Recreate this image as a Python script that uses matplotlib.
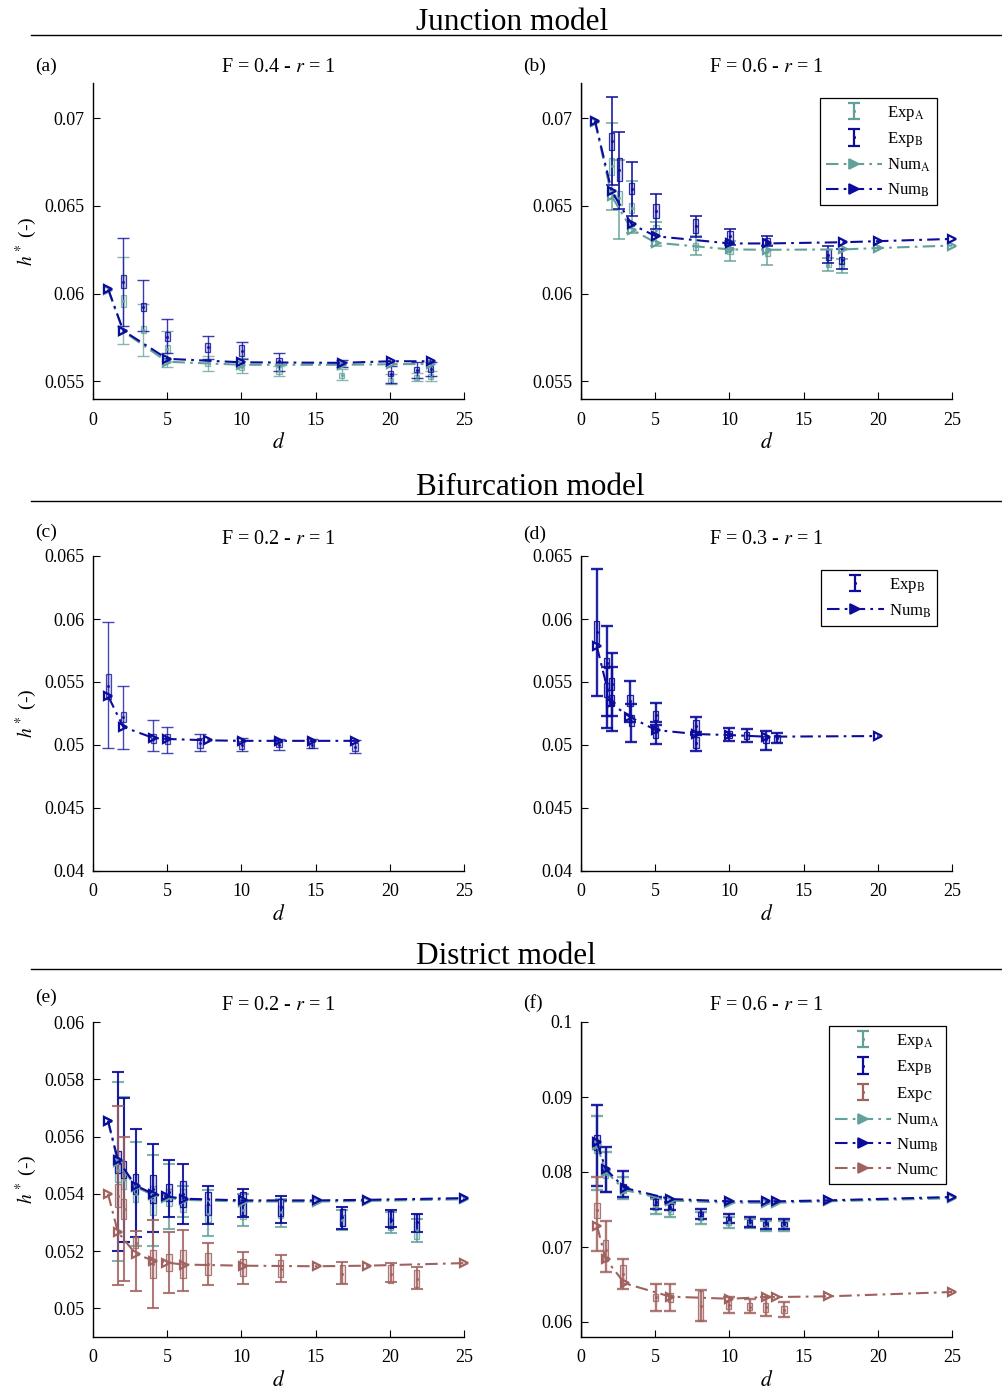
import numpy as np
import matplotlib
matplotlib.use("Agg")
import matplotlib.pyplot as plt
from matplotlib.colors import to_rgba
from matplotlib.lines import Line2D
from matplotlib.ticker import FixedLocator, FuncFormatter

plt.rcParams['font.family'] = ['Liberation Serif', 'DejaVu Serif']
plt.rcParams['mathtext.fontset'] = 'stix'

# ---------------- data ----------------
# Panel (a) Junction F=0.4
a_exp_d = [2.04, 3.39, 5.0, 7.73, 10.02, 12.53, 16.76, 20.06, 21.8, 22.75]
a_expA_h = [0.05959, 0.05794, 0.05685, 0.05609, 0.05585, 0.05562, 0.05534, 0.05506, 0.05524, 0.05528]
a_expA_hi = [0.0621, 0.0594, 0.05789, 0.05647, 0.05632, 0.0559, 0.0557, 0.05544, 0.0555, 0.0556]
a_expA_lo = [0.05713, 0.05647, 0.05585, 0.05557, 0.0555, 0.0553, 0.0551, 0.05483, 0.055, 0.055]
a_expA_box = [0.00034, 0.0002, 0.00023, 0.0002, 0.0002, 0.0002, 0.00015, 0.00015, 0.00015, 0.00015]
a_expB_h = [0.06068, 0.05926, 0.05755, 0.05694, 0.05676, 0.05615, 0.05606, 0.05544, 0.05568, 0.05572]
a_expB_hi = [0.06316, 0.06076, 0.05853, 0.05757, 0.05722, 0.05663, 0.05625, 0.0559, 0.0561, 0.0561]
a_expB_lo = [0.05817, 0.05785, 0.0566, 0.0563, 0.0563, 0.05562, 0.0558, 0.0549, 0.0552, 0.0553]
a_expB_box = [0.00037, 0.00022, 0.00027, 0.00025, 0.0003, 0.0002, 0.00012, 0.00015, 0.00015, 0.00018]
a_num_d = [1.03, 2.04, 5.0, 10.0, 16.76, 20.1, 22.8]
a_numA_h = [0.0602, 0.05785, 0.05612, 0.05595, 0.05595, 0.05598, 0.056]
a_numB_h = [0.06025, 0.05789, 0.05629, 0.05609, 0.05606, 0.05615, 0.05615]

# Panel (b) Junction F=0.6
b_exp_d = [2.07, 2.58, 3.42, 5.05, 7.73, 10.04, 12.55, 16.67, 17.57]
b_expA_h = [0.06725, 0.06545, 0.06489, 0.06365, 0.0627, 0.06245, 0.06235, 0.06166, 0.06157]
b_expA_hi = [0.06972, 0.06763, 0.0664, 0.06407, 0.06327, 0.06299, 0.0628, 0.06205, 0.06195]
b_expA_lo = [0.06475, 0.06309, 0.06347, 0.0627, 0.0622, 0.06185, 0.06163, 0.06128, 0.0612]
b_expA_box = [0.0005, 0.0004, 0.0003, 0.00025, 0.0002, 0.0002, 0.0002, 0.00015, 0.00015]
b_expB_h = [0.06867, 0.06706, 0.06598, 0.0647, 0.06384, 0.06327, 0.063, 0.06223, 0.0619]
b_expB_hi = [0.07119, 0.0692, 0.06748, 0.0657, 0.06445, 0.06371, 0.06327, 0.0627, 0.06252]
b_expB_lo = [0.06621, 0.0648, 0.06445, 0.0637, 0.0632, 0.0628, 0.0627, 0.06175, 0.06138]
b_expB_box = [0.0005, 0.00065, 0.0003, 0.0004, 0.0004, 0.0003, 0.00015, 0.0003, 0.0002]
b_num_d = [0.94, 2.07, 3.42, 5.05, 10.04, 12.55, 17.67, 20.03, 25.0]
b_numA_h = [0.0698, 0.06555, 0.06365, 0.0629, 0.06252, 0.0625, 0.06252, 0.0626, 0.06274]
b_numB_h = [0.06986, 0.06583, 0.06394, 0.06327, 0.06286, 0.06286, 0.06293, 0.06299, 0.06312]

# Panel (c) Bifurcation F=0.2
c_exp_d = [1.03, 2.04, 4.06, 5.0, 7.21, 10.02, 12.53, 14.74, 17.65]
c_expB_h = [0.05465, 0.05219, 0.0505, 0.05048, 0.05016, 0.05, 0.05003, 0.05003, 0.04985]
c_expB_hi = [0.05979, 0.05471, 0.052, 0.05143, 0.0509, 0.05056, 0.0505, 0.05048, 0.05042]
c_expB_lo = [0.04976, 0.04968, 0.04955, 0.0494, 0.04955, 0.04949, 0.04963, 0.04974, 0.04937]
c_expB_box = [0.001, 0.0004, 0.00035, 0.0004, 0.0004, 0.0003, 0.0002, 0.00025, 0.0003]
c_num_d = [1.03, 2.04, 4.06, 5.0, 7.77, 10.02, 12.53, 14.74, 17.65]
c_numB_h = [0.05386, 0.05143, 0.05056, 0.05048, 0.05037, 0.05033, 0.05033, 0.05033, 0.05033]

# Panel (d) Bifurcation F=0.3
d_exp_d = [1.06, 1.73, 1.73, 2.07, 2.07, 3.3, 3.4, 5.03, 5.03, 7.75, 7.75, 10.0, 11.16, 12.47, 13.2]
d_expB_h = [0.05897, 0.05648, 0.05437, 0.05484, 0.05352, 0.05352, 0.05193, 0.05235, 0.05101,
            0.05151, 0.05019, 0.05085, 0.05077, 0.05045, 0.05053]
d_expB_hi = [0.06394, 0.05947, 0.05616, 0.05733, 0.05616, 0.05511, 0.05325, 0.05336, 0.0518,
             0.0522, 0.051, 0.05132, 0.05127, 0.05114, 0.05098]
d_expB_lo = [0.05392, 0.05233, 0.05138, 0.05114, 0.05233, 0.0518, 0.05026, 0.0516, 0.05005,
             0.0508, 0.04952, 0.05034, 0.05026, 0.0496, 0.05013]
d_expB_box = [0.00089, 0.0004, 0.00053, 0.00046, 0.00046, 0.00046, 0.00046, 0.00037, 0.00046,
              0.00046, 0.00046, 0.0003, 0.0003, 0.0003, 0.0003]
d_num_d = [1.06, 2.02, 3.26, 5.03, 7.75, 10.0, 12.47, 20.04]
d_numB_h = [0.05786, 0.05331, 0.05225, 0.05119, 0.05087, 0.05079, 0.05066, 0.05071]

# Panel (e) District F=0.2
e_exp_d = [1.68, 2.07, 2.88, 4.04, 5.12, 6.06, 7.75, 10.1, 12.65, 16.8, 20.06, 21.8]
e_expA_h = [0.05482, 0.05447, 0.054, 0.05377, 0.05388, 0.05377, 0.0533, 0.05342, 0.05336, 0.05307, 0.05295, 0.05272]
e_expA_hi = [0.0579, 0.05738, 0.05581, 0.05534, 0.05505, 0.05429, 0.05412, 0.054, 0.05383, 0.05342, 0.05336, 0.05313]
e_expA_lo = [0.05165, 0.05231, 0.05219, 0.05219, 0.05278, 0.05318, 0.05254, 0.05289, 0.05283, 0.05272, 0.05262, 0.05231]
e_expA_box = [0.0004, 0.0003, 0.0003, 0.0005, 0.0003, 0.0004, 0.0003, 0.0003, 0.0002, 0.0002, 0.0002, 0.0003]
e_expB_h = [0.05511, 0.05484, 0.05435, 0.05417, 0.05406, 0.054, 0.05365, 0.05365, 0.05353, 0.05318, 0.05309, 0.05301]
e_expB_hi = [0.05825, 0.05734, 0.05627, 0.05575, 0.05517, 0.05503, 0.05426, 0.05417, 0.05394, 0.05353, 0.05342, 0.0533]
e_expB_lo = [0.052, 0.05231, 0.05248, 0.05266, 0.05318, 0.05295, 0.05293, 0.05318, 0.05299, 0.05278, 0.05283, 0.05266]
e_expB_box = [0.0004, 0.0003, 0.00035, 0.0005, 0.0003, 0.00045, 0.0004, 0.0004, 0.0003, 0.0003, 0.0003, 0.0003]
e_expC_h = [0.05394, 0.05348, 0.0523, 0.05155, 0.05161, 0.05155, 0.05155, 0.05144, 0.05138, 0.0512, 0.0512, 0.05103]
e_expC_hi = [0.05707, 0.05598, 0.0527, 0.05309, 0.05266, 0.05274, 0.05228, 0.05196, 0.05187, 0.05161, 0.05158, 0.05144]
e_expC_lo = [0.0508, 0.05097, 0.05062, 0.05, 0.05053, 0.05062, 0.05083, 0.05085, 0.05091, 0.05085, 0.05091, 0.05068]
e_expC_box = [0.0004, 0.00035, 0.0002, 0.0005, 0.0003, 0.0005, 0.0004, 0.0003, 0.0003, 0.0003, 0.0003, 0.0003]
e_num_d = [1.01, 1.68, 2.88, 4.04, 4.94, 6.1, 10.1, 15.07, 18.44, 25.0]
e_numA_h = [0.05653, 0.05512, 0.05424, 0.05396, 0.05387, 0.05379, 0.05373, 0.05373, 0.05375, 0.05381]
e_numB_h = [0.05656, 0.05517, 0.05429, 0.054, 0.05391, 0.05383, 0.05377, 0.05377, 0.05379, 0.05385]
e_numC_h = [0.054, 0.05266, 0.0519, 0.05167, 0.0516, 0.05153, 0.05149, 0.05147, 0.05149, 0.05158]

# Panel (f) District F=0.6
f_exp_d = [1.08, 1.66, 2.83, 5.03, 6.02, 8.06, 9.95, 11.37, 12.44, 13.68]
f_expA_h = [0.08329, 0.07973, 0.07773, 0.07529, 0.07484, 0.07387, 0.07329, 0.07307, 0.07284, 0.07284]
f_expA_hi = [0.08751, 0.08262, 0.07938, 0.0764, 0.07573, 0.07462, 0.07396, 0.07373, 0.07342, 0.07351]
f_expA_lo = [0.0776, 0.07729, 0.0764, 0.0744, 0.07396, 0.07307, 0.07253, 0.07253, 0.07218, 0.07209]
f_expA_box = [0.0008, 0.0005, 0.0005, 0.0004, 0.0004, 0.0003, 0.0003, 0.0003, 0.0003, 0.0003]
f_expB_h = [0.08396, 0.08018, 0.07796, 0.07596, 0.07538, 0.0744, 0.07373, 0.07329, 0.07307, 0.07307]
f_expB_hi = [0.08898, 0.08329, 0.08009, 0.07662, 0.07596, 0.07507, 0.0744, 0.07396, 0.07373, 0.07373]
f_expB_lo = [0.07818, 0.07729, 0.07662, 0.07507, 0.07493, 0.07373, 0.07316, 0.07271, 0.0724, 0.0724]
f_expB_box = [0.001, 0.0005, 0.0005, 0.0004, 0.0004, 0.0003, 0.0003, 0.0003, 0.0003, 0.0003]
f_expC_h = [0.0749, 0.0696, 0.0664, 0.06329, 0.06329, 0.06218, 0.06231, 0.06204, 0.06196, 0.06164]
f_expC_hi = [0.07938, 0.07351, 0.0684, 0.06507, 0.06507, 0.06427, 0.06338, 0.06307, 0.06329, 0.06262]
f_expC_lo = [0.06951, 0.06662, 0.0644, 0.06142, 0.06151, 0.06018, 0.06116, 0.06116, 0.06084, 0.06071]
f_expC_box = [0.001, 0.0014, 0.0012, 0.0005, 0.0006, 0.002, 0.0006, 0.0005, 0.0006, 0.0005]
f_num_d = [1.08, 1.66, 2.94, 6.02, 10.0, 12.49, 13.16, 16.67, 25.0]
f_numA_h = [0.0836, 0.0801, 0.0776, 0.0762, 0.0759, 0.0759, 0.0759, 0.0761, 0.0765]
f_numB_h = [0.08396, 0.0804, 0.07787, 0.0764, 0.07609, 0.07609, 0.07609, 0.07622, 0.07667]
f_numC_h = [0.07284, 0.0684, 0.06516, 0.06338, 0.0631, 0.06333, 0.06333, 0.06342, 0.064]

x_ticks = [0, 5, 10, 15, 20, 25]
yt_junction = [0.055, 0.06, 0.065, 0.07]
yt_bif = [0.04, 0.045, 0.05, 0.055, 0.06, 0.065]
yt_e = [0.05, 0.052, 0.054, 0.056, 0.058, 0.06]
yt_f = [0.06, 0.07, 0.08, 0.09, 0.1]

COL_A = '#62a09a'
COL_B = '#0b0b9c'
COL_C = '#a0625f'

W, H = 1002, 1391
fig = plt.figure(figsize=(W / 100, H / 100), dpi=100)

DASH = (0, (6, 2.5, 1.3, 2.5))


def px_axes(l, t, r, b):
    return fig.add_axes([l / W, 1 - b / H, (r - l) / W, (b - t) / H])


def style(ax, yt, ylim):
    ax.set_xlim(0, 25)
    ax.set_ylim(*ylim)
    ax.xaxis.set_major_locator(FixedLocator(x_ticks))
    ax.yaxis.set_major_locator(FixedLocator(yt))
    ax.yaxis.set_major_formatter(FuncFormatter(lambda v, p: ('%g' % round(v, 4))))
    ax.xaxis.set_major_formatter(FuncFormatter(lambda v, p: '%d' % v))
    for s in ['top', 'right']:
        ax.spines[s].set_visible(False)
    for s in ['left', 'bottom']:
        ax.spines[s].set_linewidth(1.0)
    ax.tick_params(direction='in', length=5, width=0.8, labelsize=13)
    ax.tick_params(axis='x', pad=9)
    ax.tick_params(axis='y', pad=6)


def draw_exp(ax, d, h, lo, hi, box, color, elw, alpha):
    d = np.asarray(d); h = np.asarray(h); lo = np.asarray(lo); hi = np.asarray(hi); box = np.asarray(box)
    ax.bar(d, 2 * box, bottom=h - box, width=0.36, facecolor=to_rgba(color, 0.18),
           edgecolor=to_rgba(color, alpha), linewidth=0.9, zorder=3)
    ax.errorbar(d, h, yerr=[h - lo, hi - h], fmt='.', ms=2.5, color=color, ecolor=color,
                elinewidth=elw, capsize=4.5, capthick=elw, alpha=alpha, zorder=3)


def draw_num(ax, d, h, color, lw):
    ax.plot(d, h, linestyle=DASH, color=color, lw=lw, marker='>', ms=6, mfc='none',
            mew=1.6, zorder=4, clip_on=False)


def header(ax, label, title, l, t, r, b, label_dy):
    cx = (l + r) / 2
    fig.text((l - 58) / W, 1 - (t - label_dy) / H, label, ha='left', va='center', fontsize=14)
    fig.text(cx / W, 1 - (t - 16) / H, title, ha='center', va='center', fontsize=14.5)
    fig.text(cx / W, 1 - (b + 44) / H, '$d$', ha='center', va='center', fontsize=15.5)
    if l < 300:
        fig.text(26 / W, 1 - ((t + b) / 2) / H, '$h^*$ (-)', ha='center', va='center',
                 rotation=90, fontsize=14)


def section(text, y):
    fig.text(416 / W, 1 - (y - 13) / H, text, ha='left', va='center', fontsize=22.5)
    fig.add_artist(Line2D([31 / W, 1.0], [1 - y / H, 1 - y / H], transform=fig.transFigure,
                          color='k', lw=1.0))


def exp_handle(color):
    return plt.errorbar([0], [0], yerr=[[1], [1]], fmt='.', ms=2.5, color=color,
                        elinewidth=1.6, capsize=4.5, capthick=1.6)


def num_handle(color):
    return Line2D([0], [0], linestyle=DASH, color=color, lw=1.5, marker='>', ms=6.5,
                  mfc=color, mew=1.2)


def legend(ax, handles, labels, right, top):
    leg = ax.legend(handles, labels, loc='upper right',
                    bbox_to_anchor=(right / W, 1 - top / H), bbox_transform=fig.transFigure,
                    borderaxespad=0, fancybox=False, framealpha=1, edgecolor='k',
                    fontsize=12, handlelength=3.4, handletextpad=0.3,
                    labelspacing=0.45, borderpad=0.35)
    leg.get_frame().set_linewidth(0.9)


TITLE = 'F = {} - $r$ = 1'

# sections
section('Junction model', 35)
section('Bifurcation model', 501)
section('District model', 969)

# ----- (a)
L, T, R, B = 93, 83, 464, 399
ax = px_axes(L, T, R, B)
style(ax, yt_junction, (0.054, 0.072))
draw_exp(ax, a_exp_d, a_expA_h, a_expA_lo, a_expA_hi, a_expA_box, COL_A, 1.0, 0.75)
draw_exp(ax, a_exp_d, a_expB_h, a_expB_lo, a_expB_hi, a_expB_box, COL_B, 1.0, 0.8)
draw_num(ax, a_num_d, a_numA_h, COL_A, 1.5)
draw_num(ax, a_num_d, a_numB_h, COL_B, 1.5)
header(ax, '(a)', TITLE.format('0.4'), L, T, R, B, 17)

# ----- (b)
L, T, R, B = 581, 83, 952, 399
ax = px_axes(L, T, R, B)
style(ax, yt_junction, (0.054, 0.072))
draw_exp(ax, b_exp_d, b_expA_h, b_expA_lo, b_expA_hi, b_expA_box, COL_A, 1.3, 0.8)
draw_exp(ax, b_exp_d, b_expB_h, b_expB_lo, b_expB_hi, b_expB_box, COL_B, 1.3, 0.85)
draw_num(ax, b_num_d, b_numA_h, COL_A, 1.5)
draw_num(ax, b_num_d, b_numB_h, COL_B, 1.5)
header(ax, '(b)', TITLE.format('0.6'), L, T, R, B, 17)
legend(ax, [exp_handle(COL_A), exp_handle(COL_B), num_handle(COL_A), num_handle(COL_B)],
       ['Exp$_\\mathrm{A}$', 'Exp$_\\mathrm{B}$', 'Num$_\\mathrm{A}$', 'Num$_\\mathrm{B}$'], 937, 98)

# ----- (c)
L, T, R, B = 93, 556, 464, 871
ax = px_axes(L, T, R, B)
style(ax, yt_bif, (0.04, 0.065))
draw_exp(ax, c_exp_d, c_expB_h, c_expB_lo, c_expB_hi, c_expB_box, COL_B, 1.0, 0.75)
draw_num(ax, c_num_d, c_numB_h, COL_B, 1.5)
header(ax, '(c)', TITLE.format('0.2'), L, T, R, B, 24)

# ----- (d)
L, T, R, B = 581, 556, 952, 871
ax = px_axes(L, T, R, B)
style(ax, yt_bif, (0.04, 0.065))
draw_exp(ax, d_exp_d, d_expB_h, d_expB_lo, d_expB_hi, d_expB_box, COL_B, 1.7, 0.9)
draw_num(ax, d_num_d, d_numB_h, COL_B, 1.5)
header(ax, '(d)', TITLE.format('0.3'), L, T, R, B, 22)
legend(ax, [exp_handle(COL_B), num_handle(COL_B)],
       ['Exp$_\\mathrm{B}$', 'Num$_\\mathrm{B}$'], 937, 570)

# ----- (e)
L, T, R, B = 93, 1022, 464, 1337
ax = px_axes(L, T, R, B)
style(ax, yt_e, (0.049, 0.06))
draw_exp(ax, e_exp_d, e_expA_h, e_expA_lo, e_expA_hi, e_expA_box, COL_A, 1.5, 0.8)
draw_exp(ax, e_exp_d, e_expB_h, e_expB_lo, e_expB_hi, e_expB_box, COL_B, 1.5, 0.9)
draw_exp(ax, e_exp_d, e_expC_h, e_expC_lo, e_expC_hi, e_expC_box, COL_C, 1.5, 0.85)
draw_num(ax, e_num_d, e_numA_h, COL_A, 1.5)
draw_num(ax, e_num_d, e_numB_h, COL_B, 1.5)
draw_num(ax, e_num_d, e_numC_h, COL_C, 1.5)
header(ax, '(e)', TITLE.format('0.2'), L, T, R, B, 25)

# ----- (f)
L, T, R, B = 581, 1022, 952, 1337
ax = px_axes(L, T, R, B)
style(ax, yt_f, (0.058, 0.1))
draw_exp(ax, f_exp_d, f_expA_h, f_expA_lo, f_expA_hi, f_expA_box, COL_A, 1.7, 0.85)
draw_exp(ax, f_exp_d, f_expB_h, f_expB_lo, f_expB_hi, f_expB_box, COL_B, 1.7, 0.9)
draw_exp(ax, f_exp_d, f_expC_h, f_expC_lo, f_expC_hi, f_expC_box, COL_C, 1.7, 0.85)
draw_num(ax, f_num_d, f_numA_h, COL_A, 1.5)
draw_num(ax, f_num_d, f_numB_h, COL_B, 1.5)
draw_num(ax, f_num_d, f_numC_h, COL_C, 1.5)
header(ax, '(f)', TITLE.format('0.6'), L, T, R, B, 19)
legend(ax, [exp_handle(COL_A), exp_handle(COL_B), exp_handle(COL_C),
            num_handle(COL_A), num_handle(COL_B), num_handle(COL_C)],
       ['Exp$_\\mathrm{A}$', 'Exp$_\\mathrm{B}$', 'Exp$_\\mathrm{C}$',
        'Num$_\\mathrm{A}$', 'Num$_\\mathrm{B}$', 'Num$_\\mathrm{C}$'], 946, 1026)

fig.savefig('out.png', dpi=100)
